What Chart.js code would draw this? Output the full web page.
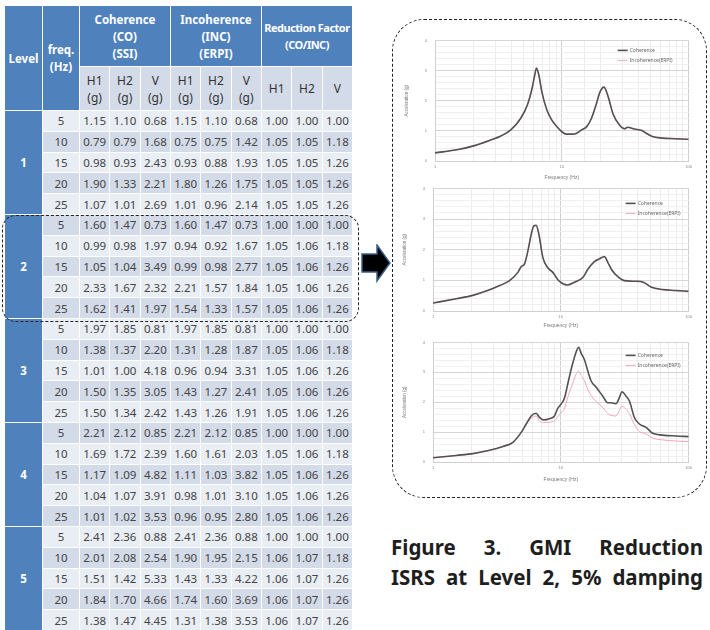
<!DOCTYPE html>
<html>
<head>
<meta charset="utf-8">
<script src="https://cdn.jsdelivr.net/npm/chart.js@4.4.1/dist/chart.umd.min.js"></script>
<style>
  html, body { margin: 0; padding: 0; background: #fff; }
  body { width: 710px; height: 630px; position: relative; overflow: hidden; font-family: "Noto Sans", "DejaVu Sans", sans-serif; }
  table { position: absolute; left: 4px; top: 5px; border-collapse: collapse; table-layout: fixed; width: 349px; }
  td, th { border: 1.5px solid #fff; padding: 0; text-align: center; font-size: 11.5px; color: #444; white-space: nowrap; }
  th { font-weight: bold; color: #fff; background: #4f81bd; line-height: 17px; font-size: 11.5px; }
  th.rf { font-size: 11px; letter-spacing: -0.5px; }
  th.sub { background: #d3dae8; color: #333; font-weight: normal; font-size: 12px; }
  td.lvl { background: #4f81bd; color: #fff; font-weight: bold; }
  tr.a td { background: #e9edf4; }
  tr.b td { background: #d3dae8; }
  tr.a td.lvl, tr.b td.lvl { background: #4f81bd; }
  tbody tr { height: 20.8px; }
  .box { position: absolute; border: 1.4px dashed #222; box-sizing: border-box; }
  canvas { position: absolute; }
  .cap { position: absolute; left: 391px; width: 312px; font-weight: bold; font-size: 20.5px; line-height: 30px; color: #1e1e1e; text-align: justify; text-align-last: justify; white-space: nowrap; }
</style>
</head>
<body>
<table id="tbl">
  <colgroup><col style="width:38px"><col style="width:37px"></colgroup>
  <thead>
    <tr style="height:61px">
      <th rowspan="2">Level</th><th rowspan="2">freq.<br>(Hz)</th>
      <th colspan="3">Coherence<br>(CO)<br>(SSI)</th>
      <th colspan="3">Incoherence<br>(INC)<br>(ERPI)</th>
      <th colspan="3" class="rf">Reduction Factor<br>(CO/INC)</th>
    </tr>
    <tr style="height:44px">
      <th class="sub">H1<br>(g)</th><th class="sub">H2<br>(g)</th><th class="sub">V<br>(g)</th>
      <th class="sub">H1<br>(g)</th><th class="sub">H2<br>(g)</th><th class="sub">V<br>(g)</th>
      <th class="sub">H1</th><th class="sub">H2</th><th class="sub">V</th>
    </tr>
  </thead>
  <tbody id="tbody"></tbody>
</table>

<div class="box" style="left:2px;top:215px;width:357px;height:107px;border-radius:14px;"></div>
<svg style="position:absolute;left:360px;top:244px" width="32" height="40">
  <polygon points="2,10 17,10 17,1 30,19 17,37 17,28 2,28" fill="#000" stroke="#3b5f8a" stroke-width="1.5"/>
</svg>
<div class="box" style="left:392px;top:19px;width:315px;height:479px;border-radius:32px;"></div>

<canvas id="c1" width="295" height="155" style="left:400px;top:30px"></canvas>
<canvas id="c2" width="297" height="155" style="left:398px;top:178px"></canvas>
<canvas id="c3" width="297" height="155" style="left:398px;top:332px"></canvas>

<div class="cap" style="top:532px">Figure 3. GMI Reduction</div>
<div class="cap" style="top:562px">ISRS at Level 2, 5% damping</div>

<script>
// ---- table data (25 rows: level x freq) ----
const levels = [1, 2, 3, 4, 5];
const freqs = [5, 10, 15, 20, 25];
const coH1 = [1.15,0.79,0.98,1.90,1.07, 1.60,0.99,1.05,2.33,1.62, 1.97,1.38,1.01,1.50,1.50, 2.21,1.69,1.17,1.04,1.01, 2.41,2.01,1.51,1.84,1.38];
const coH2 = [1.10,0.79,0.93,1.33,1.01, 1.47,0.98,1.04,1.67,1.41, 1.85,1.37,1.00,1.35,1.34, 2.12,1.72,1.09,1.07,1.02, 2.36,2.08,1.42,1.70,1.47];
const coV  = [0.68,1.68,2.43,2.21,2.69, 0.73,1.97,3.49,2.32,1.97, 0.81,2.20,4.18,3.05,2.42, 0.85,2.39,4.82,3.91,3.53, 0.88,2.54,5.33,4.66,4.45];
const incH1 = [1.15,0.75,0.93,1.80,1.01, 1.60,0.94,0.99,2.21,1.54, 1.97,1.31,0.96,1.43,1.43, 2.21,1.60,1.11,0.98,0.96, 2.41,1.90,1.43,1.74,1.31];
const incH2 = [1.10,0.75,0.88,1.26,0.96, 1.47,0.92,0.98,1.57,1.33, 1.85,1.28,0.94,1.27,1.26, 2.12,1.61,1.03,1.01,0.95, 2.36,1.95,1.33,1.60,1.38];
const incV  = [0.68,1.42,1.93,1.75,2.14, 0.73,1.67,2.77,1.84,1.57, 0.81,1.87,3.31,2.41,1.91, 0.85,2.03,3.82,3.10,2.80, 0.88,2.15,4.22,3.69,3.53];
const rfH1 = [1.00,1.05,1.05,1.05,1.05, 1.00,1.05,1.05,1.05,1.05, 1.00,1.05,1.05,1.05,1.05, 1.00,1.05,1.05,1.05,1.05, 1.00,1.06,1.06,1.06,1.06];
const rfH2 = [1.00,1.05,1.05,1.05,1.05, 1.00,1.06,1.06,1.06,1.06, 1.00,1.06,1.06,1.06,1.06, 1.00,1.06,1.06,1.06,1.06, 1.00,1.07,1.07,1.07,1.07];
const rfV  = [1.00,1.18,1.26,1.26,1.26, 1.00,1.18,1.26,1.26,1.26, 1.00,1.18,1.26,1.26,1.26, 1.00,1.18,1.26,1.26,1.26, 1.00,1.18,1.26,1.26,1.26];

// ---- ISRS curves, Level 2 (x: frequency Hz, y: acceleration g) ----
const freq1 = [1,1.52,2.05,2.76,3.31,3.96,4.73,5.33,5.84,6.12,6.31,6.58,6.98,7.64,8.36,9.14,10,10.9,12.0,13.1,14.3,15.7,17.1,18.7,19.9,21.5,23.1,25.3,28.5,31.2,33.0,37.3,43.3,45.9,51.8,61.9,78.7,100];
const coh1  = [0.27,0.38,0.51,0.70,0.83,1.03,1.41,1.84,2.43,2.86,3.08,2.86,2.27,1.68,1.35,1.14,0.97,0.89,0.89,0.92,1.03,1.14,1.41,1.89,2.27,2.45,2.16,1.57,1.19,1.07,1.12,1.06,1.00,0.93,0.81,0.76,0.74,0.72];
const inc1  = [0.27,0.38,0.51,0.70,0.83,1.02,1.40,1.83,2.41,2.84,3.06,2.84,2.25,1.67,1.34,1.13,0.96,0.88,0.88,0.91,1.02,1.13,1.40,1.87,2.25,2.43,2.14,1.56,1.18,1.06,1.11,1.05,0.99,0.92,0.80,0.75,0.73,0.71];

const freq2 = [1,1.52,2.05,2.77,3.32,3.97,4.61,4.90,5.20,5.53,5.87,6.15,6.41,6.73,7.23,7.91,8.66,9.48,10.4,11.3,12.8,14.9,16.3,18.3,20.0,21.9,23.3,25.2,28.7,31.4,38.8,44.3,50.8,62.6,79.6,100];
const coh2  = [0.26,0.40,0.51,0.69,0.83,0.99,1.26,1.45,1.54,1.97,2.51,2.78,2.80,2.51,1.75,1.41,1.26,1.02,0.89,0.85,0.94,1.10,1.37,1.61,1.70,1.78,1.59,1.32,1.08,0.99,0.97,0.94,0.78,0.70,0.67,0.64];
const inc2  = [0.26,0.40,0.51,0.69,0.83,0.98,1.25,1.44,1.53,1.95,2.49,2.76,2.78,2.49,1.74,1.40,1.25,1.01,0.88,0.84,0.93,1.09,1.36,1.59,1.68,1.76,1.57,1.31,1.07,0.98,0.96,0.93,0.77,0.69,0.66,0.63];

const freq3 = [1,1.52,2.05,2.77,3.52,4.22,4.90,5.36,5.87,6.41,6.81,7.32,8.15,8.92,9.48,10.1,10.7,11.3,12.3,13.2,13.8,14.4,15.3,16.3,17.3,18.9,21.3,23.3,24.7,27.0,28.7,30.1,32.4,34.4,37.6,41.2,46.4,52.3,62.6,79.6,100];
const coh3  = [0.14,0.22,0.28,0.39,0.52,0.66,0.99,1.27,1.54,1.63,1.49,1.41,1.45,1.54,1.80,1.95,2.15,2.59,3.25,3.69,3.84,3.64,3.42,3.03,2.70,2.50,2.20,1.98,1.98,1.95,2.15,2.35,2.20,2.04,1.49,1.27,1.16,0.96,0.90,0.87,0.85];
const inc3  = [0.14,0.22,0.28,0.39,0.52,0.66,0.99,1.25,1.46,1.54,1.38,1.32,1.33,1.38,1.52,1.65,1.80,2.15,2.59,2.95,3.04,2.90,2.72,2.42,2.22,2.02,1.82,1.62,1.56,1.54,1.72,1.87,1.76,1.62,1.25,1.02,0.94,0.80,0.74,0.70,0.68];

// build table body
const tbody = document.getElementById("tbody");
const fmt = (v) => v.toFixed(2);
levels.forEach((lv, li) => {
  freqs.forEach((f, fi) => {
    const i = li * freqs.length + fi;
    const tr = document.createElement("tr");
    tr.className = i % 2 === 0 ? "a" : "b";
    let html = "";
    if (fi === 0) html += `<td class="lvl" rowspan="${freqs.length}">${lv}</td>`;
    html += `<td>${f}</td>`;
    [coH1, coH2, coV, incH1, incH2, incV, rfH1, rfH2, rfV].forEach((col) => {
      html += `<td>${fmt(col[i])}</td>`;
    });
    tr.innerHTML = html;
    tbody.appendChild(tr);
  });
});

/** Small legend drawn inside the plot area, top right. */
const insideLegend = {
  id: "insideLegend",
  afterDraw(chart, args, opts) {
    const { ctx, chartArea } = chart;
    const x = chartArea.right - opts.dx;
    chart.data.datasets.forEach((ds, i) => {
      const y = chartArea.top + opts.dy + i * 10;
      ctx.save();
      ctx.strokeStyle = ds.borderColor;
      ctx.lineWidth = ds.borderWidth;
      ctx.beginPath();
      ctx.moveTo(x, y);
      ctx.lineTo(x + 10, y);
      ctx.stroke();
      ctx.fillStyle = "#666";
      ctx.font = '5px "Noto Sans"';
      ctx.textBaseline = "middle";
      ctx.fillText(ds.label, x + 12, y);
      ctx.restore();
    });
  },
};

const isMajorX = (v) => Math.abs(Math.log10(v) - Math.round(Math.log10(v))) < 1e-6;
const isMajorY = (v) => Math.abs(v - Math.round(v)) < 1e-6;

function isrsChart(id, xs, co, inc, o) {
  const pts = (ys) => xs.map((x, i) => ({ x, y: ys[i] }));
  return new Chart(document.getElementById(id), {
    type: "line",
    data: {
      datasets: [
        { label: "Coherence", data: pts(co), borderColor: "#555055", borderWidth: 1.6 },
        { label: "Incoherence(ERPI)", data: pts(inc), borderColor: "#f2a7b9", borderWidth: 1 },
      ],
    },
    plugins: [insideLegend],
    options: {
      responsive: false,
      animation: false,
      layout: { padding: { top: 9, right: 5 } },
      elements: { point: { radius: 0 }, line: { cubicInterpolationMode: "monotone" } },
      scales: {
        x: {
          type: "logarithmic",
          min: 1,
          max: 100,
          afterFit: (s) => { s.height = o.xh; },
          grid: { color: (c) => (isMajorX(c.tick.value) ? "#cfcfcf" : "#ececec"), drawTicks: false },
          border: { color: "#cfcfcf" },
          ticks: {
            autoSkip: false,
            maxRotation: 0,
            padding: 3,
            color: "#888",
            font: { size: 4 },
            callback: (v) => (isMajorX(v) ? String(v) : ""),
          },
          title: { display: true, text: "Frequency (Hz)", color: "#777", font: { size: 5 }, padding: { top: 3 } },
        },
        y: {
          min: 0,
          max: 4,
          afterFit: (s) => { s.width = 35; },
          grid: { color: (c) => (isMajorY(c.tick.value) ? "#d6d6d6" : "#f0f0f0"), drawTicks: false },
          border: { color: "#cfcfcf" },
          ticks: {
            stepSize: 0.2,
            autoSkip: false,
            padding: 8,
            color: "#888",
            font: { size: 4 },
            callback: (v) => (isMajorY(v) ? String(Math.round(v)) : ""),
          },
          title: { display: true, text: "Acceleration (g)", color: "#777", font: { size: 4.5 } },
        },
      },
      plugins: {
        legend: { display: false },
        tooltip: { enabled: false },
        insideLegend: { dx: o.ldx, dy: o.ldy },
      },
    },
  });
}

isrsChart("c1", freq1, coh1, inc1, { xh: 24, ldx: 71, ldy: 10 });
isrsChart("c2", freq2, coh2, inc2, { xh: 22, ldx: 63, ldy: 15 });
isrsChart("c3", freq3, coh3, inc3, { xh: 25, ldx: 63, ldy: 13 });
</script>
</body>
</html>
